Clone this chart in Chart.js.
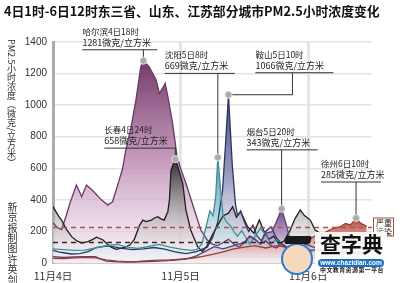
<!DOCTYPE html>
<html lang="zh-CN">
<head>
<meta charset="UTF-8">
<title>4日1时-6日12时 PM2.5小时浓度变化</title>
<script src="https://cdn.jsdelivr.net/npm/chart.js@4.4.1/dist/chart.umd.min.js"></script>
<style>
  html, body { margin: 0; padding: 0; background: #fff; }
  #wrap { position: relative; width: 400px; height: 283px; overflow: hidden; font-family: "Noto Sans CJK SC", sans-serif; }
  #chart { position: absolute; left: 0; top: 0; }
  #title { position: absolute; left: 4px; top: 1px; font-size: 12.8px; font-weight: bold; color: #111; white-space: nowrap; }
  .vtext { position: absolute; writing-mode: vertical-rl; color: #333; white-space: nowrap; line-height: 1; }
  #ytitle { left: 7px; top: 39px; font-size: 9px; }
  #credit { left: 7px; top: 202px; font-size: 10px; letter-spacing: 0.4px; }
  /* 水印 */
  #wmBack { position: absolute; left: 315px; top: 232px; width: 72px; height: 42px; background: rgba(255,255,255,0.9); }
  #wmBig { position: absolute; left: 320px; top: 233px; font-size: 21px; font-weight: bold; color: #111; line-height: 1; }
  #wmUrl { position: absolute; left: 318px; top: 259px; width: 66px; height: 8px; border-radius: 4px; background: #1f6fc5;
           color: #fff; font: bold 6.5px "Liberation Sans", sans-serif; line-height: 8px; text-align: center; }
  #wmSub { position: absolute; left: 320px; top: 267px; font-size: 6px; font-weight: bold; letter-spacing: 0.4px; color: #222; line-height: 1; }
  #face { position: absolute; left: 281px; top: 243px; width: 28px; height: 28px; border: 2.5px solid #2a7bd0; border-radius: 50%; background: #f6d9bd; }
  #cap { position: absolute; left: 285px; top: 236px; width: 26px; height: 8px; background: #1a1a1a; transform: skewX(-12deg); border-radius: 2px; }
</style>
</head>
<body>
<div id="wrap">
  <canvas id="chart" width="400" height="283"></canvas>
  <div id="title">4日1时-6日12时东三省、山东、江苏部分城市PM2.5小时浓度变化</div>
  <div id="ytitle" class="vtext">PM2.5小时浓度（微克/立方米）</div>
  <div id="credit" class="vtext">新京报制图许英剑</div>
  <div id="wmBack"></div>
  <div id="face"></div>
  <div id="cap"></div>
  <div id="wmBig">查字典</div>
  <div id="wmUrl">www.chazidian.com</div>
  <div id="wmSub">中文教育资源第一平台</div>
</div>

<script>
// ---------------- 数据 (小时: 从4日0时起算) ----------------
const dateTickHours = [1, 25, 49];
const dateLabels = ['11月4日', '11月5日', '11月6日'];

const cityNames = ['徐州', '烟台', '沈阳', '鞍山', '长春', '哈尔滨'];

const xuzhouHours  = [1, 3, 5, 7, 9, 11, 13, 15, 17, 19, 21, 23, 25, 27, 29, 31, 33, 35, 37, 39, 41, 43, 45, 47, 49, 50.7, 51.9, 52.8, 53.8, 55, 56, 56.9, 57.5, 58, 58.9, 60];
const xuzhouValues = [30, 28, 32, 36, 33, 20, 12, 8, 10, 15, 18, 20, 25, 30, 40, 55, 70, 90, 100, 110, 95, 110, 100, 110, 150, 177, 188, 205, 220, 230, 251, 241, 262, 285, 251, 232];

const yantaiHours  = [1, 3, 5, 7, 9, 10, 11, 13, 16, 20, 24, 26, 28, 30, 31.3, 33, 35, 37, 38, 39, 40, 41, 42.2, 43, 44, 45, 45.6, 46.5, 47.5, 48.5, 50, 52, 54, 56, 58, 60];
const yantaiValues = [40, 35, 38, 40, 40, 25, 12, 8, 5, 10, 18, 25, 45, 80, 103, 90, 110, 130, 170, 150, 120, 190, 198, 260, 343, 230, 140, 110, 90, 120, 100, 80, 70, 65, 60, 60];

const shenyangHours  = [1, 3, 5, 7, 9, 11, 13, 15, 17, 19, 21, 23, 25, 27, 28, 29, 29.8, 30.5, 31.1, 31.6, 32, 32.5, 33, 33.6, 34.3, 35, 35.7, 36.5, 37.3, 38, 39, 40, 41, 42, 43, 44, 45, 46, 47, 48, 49, 50, 52, 54, 56, 58, 60];
const shenyangValues = [90, 85, 80, 82, 95, 110, 118, 100, 92, 105, 118, 100, 88, 80, 85, 120, 230, 330, 300, 420, 669, 470, 300, 260, 240, 200, 170, 205, 160, 120, 170, 220, 180, 120, 150, 110, 90, 110, 90, 80, 85, 80, 75, 70, 75, 70, 72];

const anshanHours  = [1, 2, 3, 4.5, 6, 7.6, 9.2, 11.5, 14, 16, 18, 20, 22, 24, 26, 28, 30, 31, 32, 32.9, 33.5, 34, 34.7, 35.3, 35.7, 36.3, 37, 37.8, 38.6, 39.4, 40.2, 41, 42, 43, 44, 45, 46, 47, 48, 50, 52, 54, 56, 58, 60];
const anshanValues = [80, 70, 65, 57, 60, 72, 99, 108, 93, 85, 90, 98, 88, 70, 60, 72, 100, 160, 260, 462, 780, 1066, 631, 378, 300, 330, 260, 200, 240, 170, 140, 200, 230, 160, 120, 100, 90, 95, 85, 80, 75, 70, 65, 60, 62];

const changchunHours  = [1, 2, 2.6, 3.5, 4.5, 5.5, 6.4, 7.6, 8.5, 9.2, 10.4, 11.2, 12, 12.9, 14.5, 15.5, 16.3, 17.3, 17.9, 18.5, 19.5, 20.1, 20.7, 21.3, 21.9, 22.6, 22.9, 23.2, 24, 24.4, 25.4, 26, 26.9, 28.2, 29.1, 30, 31, 32, 33, 34, 34.8, 35.5, 36.3, 37.6, 38.8, 39.8, 40.7, 41.6, 42.5, 43.5, 44.5, 45.5, 46.5, 47.5, 48.3, 49.4, 50.3, 51.2, 52, 53, 54, 55, 56, 57, 58, 59, 60];
const changchunValues = [357, 300, 272, 215, 167, 140, 126, 135, 150, 163, 146, 120, 99, 87, 99, 115, 150, 240, 272, 262, 272, 285, 293, 280, 272, 325, 399, 589, 658, 620, 505, 336, 209, 103, 72, 110, 180, 240, 300, 316, 357, 290, 325, 230, 188, 272, 200, 150, 170, 120, 140, 200, 280, 336, 300, 272, 209, 188, 160, 140, 120, 110, 100, 90, 95, 100, 95];

const harbinHours  = [1, 1.8, 2.6, 3.4, 4.2, 5.4, 6.4, 7.3, 8.1, 8.9, 10.1, 11.3, 12.2, 13.4, 14.1, 14.7, 15.7, 16.6, 17.5, 18, 19.1, 20.4, 21, 21.6, 22.1, 22.6, 23.5, 24.3, 25.1, 26, 26.8, 27.6, 28.8, 30, 31, 32, 33, 34, 35, 36, 37, 38, 39, 40, 41, 42, 43, 44, 45, 46, 47, 48, 49, 50, 51, 52, 53, 54, 55, 56, 57, 58, 59, 60];
const harbinValues = [253, 225, 212, 290, 380, 494, 420, 494, 470, 443, 400, 367, 388, 520, 600, 716, 864, 1033, 1240, 1281, 1243, 1159, 1075, 1106, 1138, 1054, 885, 680, 589, 505, 420, 336, 209, 146, 120, 110, 130, 150, 120, 100, 130, 170, 150, 120, 140, 110, 95, 120, 100, 90, 80, 75, 70, 80, 90, 85, 80, 75, 70, 80, 75, 70, 65, 70];

// 污染分级虚线
const thresholdValues = [225, 130];

// ---------------- 样式 ----------------
const lineColors = ['#9c3e2e', '#5e3f78', '#3f8d9e', '#2f3562', '#1e1e1e', '#6a3a62'];
const fillStops = [
  ['#b0483a', 'rgba(215,150,140,0.8)', 'rgba(250,235,232,0.4)'],
  ['#6d4a88', 'rgba(170,140,190,0.8)', 'rgba(245,240,248,0.3)'],
  ['#4f9fb0', 'rgba(150,200,210,0.85)', 'rgba(240,248,250,0.3)'],
  ['#3f4576', 'rgba(140,145,185,0.85)', 'rgba(240,240,248,0.3)'],
  ['#2c2c2c', 'rgba(160,160,160,0.65)', 'rgba(255,255,255,0.2)'],
  ['#74396b', 'rgba(190,140,180,0.85)', 'rgba(245,232,242,0.5)']
];
// 标注位置: 相对峰值点的偏移
const calloutLayout = [
  { dx: -35, dy: -36, w: 60 },
  { dx: -35, dy: -59, w: 71 },
  { dx: -53, dy: -84, w: 70 },
  { dx: 27, dy: -22, w: 78, elbow: 64 },
  { dx: -71, dy: -11, w: 72 },
  { dx: -61, dy: -11, w: 75 }
];

const allHours = [xuzhouHours, yantaiHours, shenyangHours, anshanHours, changchunHours, harbinHours];
const allValues = [xuzhouValues, yantaiValues, shenyangValues, anshanValues, changchunValues, harbinValues];

// 峰值位置
const peakIndex = allValues.map(v => v.indexOf(Math.max(...v)));

function peakTimeLabel(h) {
  const day = 4 + Math.floor((h - 1) / 24);
  const hour = ((h - 1) % 24) + 1;
  return day + '日' + hour + '时';
}

function makeFill(chart, i) {
  const area = chart.chartArea;
  if (!area) return fillStops[i][1];
  const top = chart.scales.y.getPixelForValue(allValues[i][peakIndex[i]]);
  const g = chart.ctx.createLinearGradient(0, top, 0, area.bottom);
  g.addColorStop(0, fillStops[i][0]);
  g.addColorStop(0.5, fillStops[i][1]);
  g.addColorStop(1, fillStops[i][2]);
  return g;
}

const datasets = allValues.map((vals, i) => ({
  label: cityNames[i],
  data: vals.map((v, k) => ({ x: allHours[i][k], y: v })),
  borderColor: lineColors[i],
  borderWidth: 1.3,
  fill: 'origin',
  backgroundColor: (c) => makeFill(c.chart, i),
  pointRadius: 0,
  tension: 0
}));

// ---------------- 标注插件 ----------------
const calloutPlugin = {
  id: 'callouts',
  beforeDraw(chart) {
    const ctx = chart.ctx, area = chart.chartArea, y = chart.scales.y;
    const y1 = y.getPixelForValue(thresholdValues[0]);
    const y2 = y.getPixelForValue(thresholdValues[1]);
    ctx.save();
    ctx.fillStyle = 'rgba(225,170,180,0.13)';
    ctx.fillRect(area.left, y1, area.right - area.left, y2 - y1);
    ctx.restore();
  },
  afterDatasetsDraw(chart) {
    const ctx = chart.ctx, area = chart.chartArea, y = chart.scales.y;
    ctx.save();
    // 虚线
    const dashColors = ['#a8534f', '#3a2a2a'];
    thresholdValues.forEach((v, i) => {
      const py = y.getPixelForValue(v);
      ctx.strokeStyle = dashColors[i];
      ctx.lineWidth = 1.5;
      ctx.setLineDash([5, 4]);
      ctx.beginPath();
      ctx.moveTo(area.left, py);
      ctx.lineTo(area.right, py);
      ctx.stroke();
    });
    ctx.setLineDash([]);

    allValues.forEach((vals, i) => {
      const lay = calloutLayout[i];
      const pt = chart.getDatasetMeta(i).data[peakIndex[i]];
      const ux = pt.x + lay.dx, uy = pt.y + lay.dy;
      ctx.strokeStyle = '#333';
      ctx.lineWidth = 1;
      ctx.beginPath();
      ctx.moveTo(ux, uy);
      ctx.lineTo(ux + lay.w, uy);
      const vx = lay.elbow !== undefined ? pt.x + lay.elbow : pt.x;
      ctx.moveTo(vx, uy);
      ctx.lineTo(vx, pt.y);
      if (lay.elbow !== undefined) ctx.lineTo(pt.x, pt.y);
      ctx.stroke();

      ctx.fillStyle = '#222';
      ctx.textAlign = 'left';
      ctx.textBaseline = 'alphabetic';
      ctx.font = '8.5px "Noto Sans CJK SC"';
      ctx.fillText(cityNames[i] + peakTimeLabel(allHours[i][peakIndex[i]]), ux, uy - 15);
      ctx.font = '9px "Noto Sans CJK SC"';
      ctx.fillText(vals[peakIndex[i]] + '微克/立方米', ux, uy - 4);

      ctx.beginPath();
      ctx.arc(pt.x, pt.y, 3.5, 0, Math.PI * 2);
      ctx.fillStyle = '#ababab';
      ctx.fill();
      ctx.strokeStyle = '#e2e2e2';
      ctx.stroke();
    });
    ctx.restore();
  },
  afterDraw(chart) {
    // 严重污染 标签
    const ctx = chart.ctx, area = chart.chartArea, y = chart.scales.y;
    const cy = y.getPixelForValue(thresholdValues[0]);
    const bx = area.right + 1, by = cy - 10;
    ctx.save();
    ctx.fillStyle = '#fff';
    ctx.fillRect(bx, by, 21, 19);
    ctx.strokeStyle = '#b4493b';
    ctx.lineWidth = 1;
    ctx.strokeRect(bx + 0.5, by + 0.5, 20, 18);
    ctx.fillStyle = '#222';
    ctx.font = '8px "Noto Sans CJK SC"';
    ctx.textAlign = 'center';
    ctx.textBaseline = 'middle';
    ctx.fillText('严重', bx + 11, by + 5);
    ctx.fillText('污染', bx + 11, by + 14);
    ctx.restore();
  }
};

new Chart(document.getElementById('chart'), {
  type: 'line',
  data: { datasets: datasets },
  options: {
    responsive: false,
    animation: false,
    layout: { padding: { top: 42, right: 28, left: 0, bottom: 0 } },
    plugins: {
      legend: { display: false },
      tooltip: { enabled: false },
      filler: { drawTime: 'beforeDatasetsDraw' }
    },
    scales: {
      x: {
        type: 'linear',
        min: 1,
        max: 61,
        z: 1,
        afterFit: (s) => { s.height = 20; },
        afterBuildTicks: (s) => { s.ticks = dateTickHours.map(v => ({ value: v })); },
        ticks: {
          autoSkip: false,
          maxRotation: 0,
          padding: 7,
          color: '#333',
          font: { family: '"Noto Sans CJK SC"', size: 10.5 },
          callback: (v, idx) => dateLabels[idx]
        },
        grid: {
          drawTicks: false,
          lineWidth: 3,
          color: (c) => c.index === 0 ? 'rgba(0,0,0,0)' : 'rgba(160,160,160,0.28)'
        },
        border: { color: '#cfcfcf', width: 2 }
      },
      y: {
        min: 0,
        max: 1400,
        afterFit: (s) => { s.width = 53; },
        ticks: {
          stepSize: 200,
          padding: 6,
          color: '#333',
          font: { family: '"Liberation Sans"', size: 10 },
          callback: (v) => String(v)
        },
        grid: { drawTicks: false, color: '#e3e3e3', lineWidth: 1.5 },
        border: { color: '#ababab', width: 3 }
      }
    }
  },
  plugins: [calloutPlugin]
});
</script>
</body>
</html>
